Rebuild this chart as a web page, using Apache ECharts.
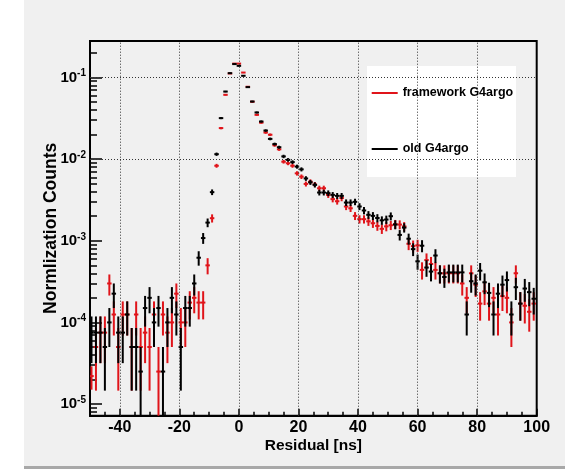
<!DOCTYPE html>
<html><head><meta charset="utf-8">
<script src="https://cdn.jsdelivr.net/npm/echarts@6/dist/echarts.min.js"></script>
<style>html,body{margin:0;padding:0;background:#fff;}#c{width:565px;height:469px;}</style>
</head><body><div id="c"></div>
<script>
// ---- data (bin centres in ns, normalised counts and their error bars) ----
const binCenters = [-49.5,-48,-46.5,-45,-43.5,-42,-40.5,-39,-37.5,-36,-34.5,-33,-31.5,-30,-28.5,-27,-25.5,-24,-22.5,-21,-19.5,-18,-16.5,-15,-13.5,-12,-10.5,-9,-7.5,-6,-4.5,-3,-1.5,0,1.5,3,4.5,6,7.5,9,10.5,12,13.5,15,16.5,18,19.5,21,22.5,24,25.5,27,28.5,30,31.5,33,34.5,36,37.5,39,40.5,42,43.5,45,46.5,48,49.5,51,52.5,54,55.5,57,58.5,60,61.5,63,64.5,66,67.5,69,70.5,72,73.5,75,76.5,78,79.5,81,82.5,84,85.5,87,88.5,90,91.5,93,94.5,96,97.5,99];

const frameworkValues = [2.2e-5,5e-5,7.5e-5,7.5e-5,3e-4,1.25e-4,5e-5,1.25e-4,1.25e-4,5e-5,1.25e-4,5e-5,7.5e-5,5e-5,1.25e-4,2.5e-5,1.25e-4,7.5e-5,1e-4,2.25e-4,1e-4,1e-4,1.75e-4,2e-4,1.75e-4,1.75e-4,5e-4,1.89e-3,8.3e-3,0.024,0.0614,0.112,0.148,0.148,0.115,0.077,0.0505,0.0349,0.028,0.0212,0.0199,0.0148,0.0132,0.0093,0.0089,0.0083,0.0067,0.0061,0.00497,0.0053,0.0049,0.0044,0.0044,0.00365,0.00324,0.00305,0.00334,0.00263,0.0025,0.00202,0.00184,0.00184,0.00173,0.00164,0.00152,0.0014,0.0015,0.00155,0.0016,0.00158,0.0015,0.00092,0.00086,0.00088,0.00044,0.00058,0.00052,0.00044,0.0004,0.0004,0.0004,0.0004,0.0004,0.0003,0.0002,0.0004,0.00029,0.00017,0.00024,0.00017,0.0002,0.000125,0.00021,0.0002,0.0001,0.0004,0.00017,0.00016,0.000135,0.00017];
const frameworkErrors = [0.7e-5,3.54e-5,4.33e-5,4.33e-5,8.66e-5,5.59e-5,3.54e-5,5.59e-5,5.59e-5,3.54e-5,5.59e-5,3.54e-5,4.33e-5,3.54e-5,5.59e-5,2.5e-5,5.59e-5,4.33e-5,5e-5,7.5e-5,5e-5,5e-5,6.61e-5,7.07e-5,6.61e-5,6.61e-5,1.12e-4,2.17e-4,4.56e-4,7.7e-4,1.24e-3,1.67e-3,1.92e-3,1.92e-3,1.7e-3,1.39e-3,1.12e-3,9.3e-4,8.4e-4,7.3e-4,7.1e-4,6.1e-4,5.7e-4,4.8e-4,4.7e-4,4.6e-4,4.1e-4,3.9e-4,3.5e-4,3.6e-4,3.5e-4,3.3e-4,3.3e-4,3.02e-4,2.85e-4,2.76e-4,2.89e-4,2.56e-4,2.5e-4,2.25e-4,2.14e-4,2.14e-4,2.08e-4,2.02e-4,1.95e-4,1.87e-4,1.94e-4,1.97e-4,2e-4,1.99e-4,1.94e-4,1.52e-4,1.47e-4,1.48e-4,1.05e-4,1.2e-4,1.14e-4,1.05e-4,1e-4,1e-4,1e-4,1e-4,1e-4,8.66e-5,7.07e-5,1e-4,8.5e-5,6.5e-5,7.7e-5,6.5e-5,7.07e-5,5.59e-5,7.2e-5,7.07e-5,5e-5,1e-4,6.5e-5,6.3e-5,5.8e-5,6.5e-5];

const oldValues = [7.5e-5,7.5e-5,7.5e-5,5e-5,1e-4,2.25e-4,7.5e-5,7.5e-5,1.25e-4,5e-5,5e-5,2.5e-5,1.5e-4,2e-4,1e-4,1.5e-4,2.5e-5,1e-4,2e-4,1.25e-4,5e-5,1.5e-4,1.5e-4,3e-4,6.2e-4,1.08e-3,1.67e-3,3.94e-3,0.0115,0.0318,0.0673,0.113,0.146,0.139,0.105,0.0762,0.0508,0.0373,0.0289,0.0224,0.0177,0.0153,0.014,0.0108,0.0098,0.0092,0.0081,0.0075,0.0058,0.0052,0.00484,0.0039,0.0039,0.00383,0.00365,0.00355,0.00355,0.00294,0.00294,0.003,0.00263,0.00235,0.00208,0.00202,0.0019,0.00178,0.00182,0.002,0.00158,0.00118,0.00145,0.00106,0.00079,0.00056,0.00087,0.00047,0.00042,0.00066,0.0004,0.00036,0.00041,0.00041,0.00041,0.00041,0.000125,0.00032,0.0003,0.00043,0.00031,0.00023,0.000125,0.000225,0.00029,0.00033,0.000125,0.00027,0.00017,0.00026,0.000235,0.000195];
const oldErrors = [4.33e-5,4.33e-5,4.33e-5,3.54e-5,5e-5,7.5e-5,4.33e-5,4.33e-5,5.59e-5,3.54e-5,3.54e-5,2.5e-5,6.12e-5,7.07e-5,5e-5,6.12e-5,2.5e-5,5e-5,7.07e-5,5.59e-5,3.54e-5,6.12e-5,6.12e-5,8.66e-5,1.245e-4,1.64e-4,2.04e-4,3.14e-4,5.36e-4,8.9e-4,1.3e-3,1.68e-3,1.91e-3,1.86e-3,1.62e-3,1.38e-3,1.13e-3,9.7e-4,8.5e-4,7.5e-4,6.65e-4,6.2e-4,5.9e-4,5.2e-4,4.95e-4,4.8e-4,4.5e-4,4.33e-4,3.8e-4,3.6e-4,3.48e-4,3.12e-4,3.12e-4,3.09e-4,3.02e-4,2.98e-4,2.98e-4,2.71e-4,2.71e-4,2.74e-4,2.56e-4,2.42e-4,2.28e-4,2.25e-4,2.18e-4,2.11e-4,2.13e-4,2.24e-4,1.99e-4,1.72e-4,1.9e-4,1.63e-4,1.41e-4,1.18e-4,1.47e-4,1.08e-4,1.02e-4,1.28e-4,1e-4,9.5e-5,1.01e-4,1.01e-4,1.01e-4,1.01e-4,5.59e-5,8.9e-5,8.66e-5,1.04e-4,8.8e-5,7.6e-5,5.59e-5,7.5e-5,8.5e-5,9.1e-5,5.59e-5,8.2e-5,6.5e-5,8.1e-5,7.7e-5,7e-5];

const seriesNames = ['framework G4argo', 'old G4argo'];
const xTickValues = [-40, -20, 0, 20, 40, 60, 80, 100];
const yTickValues = [1e-5, 1e-4, 1e-3, 1e-2, 1e-1];
const xTitle = 'Residual [ns]';
const yTitle = 'Normlization Counts';

// ---- layout / style ----
const X_MIN = -50, X_MAX = 100, Y_MIN = 7.2e-6, Y_MAX = 0.28, HALF_BIN = 0.75;
const FONT = "'Liberation Sans', Arial, sans-serif";
const RED = '#e0141a', BLACK = '#000';

const yMinorTicks = [];
for (let e = -6; e <= -1; e++) {
  for (let m = 2; m <= 9; m++) {
    const v = +(m * Math.pow(10, e)).toPrecision(3);
    if (v > Y_MIN && v < Y_MAX) yMinorTicks.push(v);
  }
}

function errSeries(name, color, values, errors, z) {
  return {
    type: 'custom', name: name, z: z,
    xAxisIndex: 0, yAxisIndex: 0,
    itemStyle: { color: color },
    encode: { x: 0, y: 1 },
    data: binCenters.map((x, i) => [x, values[i], errors[i]]),
    renderItem: function (params, api) {
      const x = api.value(0), y = api.value(1), e = api.value(2);
      const lo = Math.max(y - e, Y_MIN), hi = Math.min(y + e, Y_MAX);
      const pL = api.coord([Math.max(x - HALF_BIN, X_MIN), y]);
      const pR = api.coord([Math.min(x + HALF_BIN, X_MAX), y]);
      const pB = api.coord([x, lo]);
      const pT = api.coord([x, hi]);
      const style = { stroke: color, lineWidth: 2 };
      return {
        type: 'group',
        children: [
          { type: 'line', shape: { x1: pL[0], y1: pL[1], x2: pR[0], y2: pR[1] }, style: style },
          { type: 'line', shape: { x1: pB[0], y1: pB[1], x2: pT[0], y2: pT[1] }, style: style }
        ]
      };
    }
  };
}

const gridStyle = { color: '#333', type: [1, 2], width: 1 };
const gridLines = xTickValues.filter(v => v < X_MAX).map(v => ({ xAxis: v }))
  .concat(yTickValues.map(v => ({ yAxis: v })));

const chart = echarts.init(document.getElementById('c'), null, { renderer: 'canvas' });
chart.setOption({
  animation: false,
  backgroundColor: '#f0f0f0',
  graphic: [
    { type: 'rect', shape: { x: 0, y: 0, width: 24, height: 469 }, style: { fill: '#ffffff' }, silent: true },
    { type: 'rect', shape: { x: 24, y: 466, width: 541, height: 3 }, style: { fill: '#a8a8a8' }, silent: true },
    { type: 'rect', shape: { x: 367, y: 66, width: 149, height: 111 }, style: { fill: '#ffffff' }, z: 5, silent: true }
  ],
  grid: { left: 90, right: 28.3, top: 41, bottom: 53.3, show: true, borderColor: '#000', borderWidth: 2, backgroundColor: 'transparent' },
  legend: {
    data: [{ name: seriesNames[0], icon: 'rect' }, { name: seriesNames[1], icon: 'rect' }],
    orient: 'vertical', left: 371.7, top: 85, z: 10, padding: 0,
    itemWidth: 26, itemHeight: 2, itemGap: 40, selectedMode: false,
    textStyle: { fontFamily: FONT, fontWeight: 'bold', fontSize: 12.5, color: '#000', lineHeight: 16 }
  },
  xAxis: [
    {
      type: 'value', min: X_MIN, max: X_MAX, interval: 10, position: 'bottom',
      axisLine: { show: true, onZero: false, lineStyle: { color: '#000', width: 2 } },
      axisTick: { show: true, inside: true, length: 7, customValues: xTickValues, lineStyle: { color: '#000', width: 1.5 } },
      axisLabel: { customValues: xTickValues, margin: 4, fontSize: 16, fontWeight: 'bold', fontFamily: FONT, color: '#000' },
      splitLine: { show: false },
      name: xTitle, nameLocation: 'middle', nameGap: 22, nameMoveOverlap: false,
      nameTextStyle: { fontSize: 15.5, fontWeight: 'bold', fontFamily: FONT, color: '#000' }
    },
    {
      type: 'value', min: X_MIN, max: X_MAX, interval: 5, position: 'bottom',
      axisLine: { show: false, onZero: false },
      axisTick: { show: true, inside: true, length: 4, lineStyle: { color: '#000', width: 1.5 } },
      axisLabel: { show: false }, splitLine: { show: false }
    }
  ],
  yAxis: [
    {
      type: 'log', logBase: 10, min: Y_MIN, max: Y_MAX, position: 'left',
      axisLine: { show: true, onZero: false, lineStyle: { color: '#000', width: 2 } },
      axisTick: { show: true, inside: true, length: 12, customValues: yTickValues, lineStyle: { color: '#000', width: 1.5 } },
      axisLabel: {
        customValues: yTickValues, margin: 4,
        formatter: function (v) { return '{b|10}{s|' + Math.round(Math.log10(v)) + '}'; },
        rich: {
          b: { fontSize: 15, fontWeight: 'bold', fontFamily: FONT, color: '#000', lineHeight: 18 },
          s: { fontSize: 10, fontWeight: 'bold', fontFamily: FONT, color: '#000', lineHeight: 10, verticalAlign: 'top' }
        }
      },
      splitLine: { show: false },
      name: yTitle, nameLocation: 'middle', nameGap: 30, nameMoveOverlap: false,
      nameTextStyle: { fontSize: 17.5, fontWeight: 'bold', fontFamily: FONT, color: '#000' }
    },
    {
      type: 'log', logBase: 10, min: Y_MIN, max: Y_MAX, position: 'left',
      axisLine: { show: false, onZero: false },
      axisTick: { show: true, inside: true, length: 7, customValues: yMinorTicks, lineStyle: { color: '#000', width: 1.5 } },
      axisLabel: { show: false }, splitLine: { show: false }
    }
  ],
  series: [
    {
      type: 'line', name: 'grid', data: [], xAxisIndex: 0, yAxisIndex: 0, z: 1, silent: true,
      markLine: { silent: true, symbol: ['none', 'none'], label: { show: false }, lineStyle: gridStyle, animation: false, data: gridLines }
    },
    errSeries(seriesNames[0], RED, frameworkValues, frameworkErrors, 2),
    errSeries(seriesNames[1], BLACK, oldValues, oldErrors, 3)
  ]
});
</script></body></html>
